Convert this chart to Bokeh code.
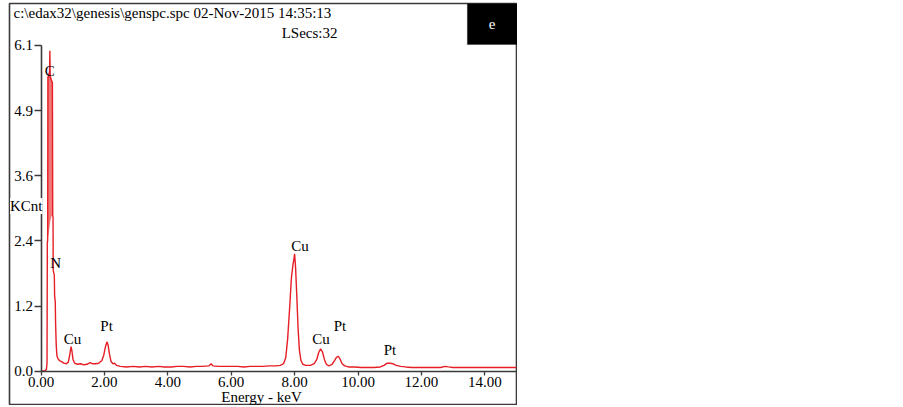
from bokeh.plotting import figure
from bokeh.models import Label, BoxAnnotation, FixedTicker, LinearAxis
from bokeh.embed import file_html
from bokeh.resources import INLINE

# ---- data ----
energy = [0.00, 0.12, 0.17, 0.19, 0.20, 0.21, 0.22, 0.27, 0.28, 0.29, 0.36, 0.37, 0.38, 0.385,
          0.40, 0.42, 0.43, 0.45, 0.46, 0.48, 0.50, 0.53, 0.58, 0.65, 0.72, 0.80, 0.86, 0.90,
          0.93, 0.95, 0.98, 1.01, 1.06, 1.15, 1.25, 1.35, 1.45, 1.55, 1.62, 1.72, 1.82, 1.92,
          1.98, 2.03, 2.08, 2.12, 2.16, 2.21, 2.27, 2.32, 2.38, 2.50, 2.70, 2.90, 3.10, 3.30,
          3.50, 3.70, 3.90, 4.10, 4.30, 4.50, 4.70, 4.90, 5.10, 5.30, 5.37, 5.42, 5.60, 5.80,
          6.00, 6.20, 6.40, 6.60, 6.80, 7.00, 7.20, 7.40, 7.55, 7.65, 7.72, 7.78, 7.84, 7.90,
          7.95, 7.98, 8.00, 8.03, 8.07, 8.11, 8.15, 8.20, 8.26, 8.35, 8.50, 8.62, 8.70, 8.76,
          8.82, 8.88, 8.94, 9.00, 9.08, 9.18, 9.26, 9.32, 9.38, 9.44, 9.50, 9.58, 9.70, 9.90,
          10.10, 10.30, 10.50, 10.70, 10.82, 10.92, 11.00, 11.10, 11.20, 11.35, 11.50, 11.70,
          12.00, 12.30, 12.60, 12.75, 12.85, 13.00, 13.30, 13.60, 14.00, 14.40, 14.70, 15.00]
kcnt = [0.00, 0.01, 0.03, 0.15, 2.40, 2.45, 5.50, 5.60, 6.00, 5.50, 5.40, 2.90, 2.90, 1.90,
        1.85, 1.80, 1.40, 1.30, 0.90, 0.50, 0.30, 0.24, 0.20, 0.18, 0.15, 0.14, 0.17, 0.28,
        0.40, 0.46, 0.36, 0.22, 0.15, 0.13, 0.14, 0.12, 0.13, 0.16, 0.14, 0.14, 0.15, 0.20,
        0.30, 0.45, 0.55, 0.48, 0.32, 0.18, 0.14, 0.15, 0.11, 0.09, 0.08, 0.09, 0.08, 0.09,
        0.08, 0.09, 0.08, 0.08, 0.09, 0.09, 0.08, 0.09, 0.09, 0.10, 0.14, 0.10, 0.09, 0.09,
        0.09, 0.09, 0.08, 0.09, 0.09, 0.09, 0.10, 0.10, 0.11, 0.14, 0.25, 0.60, 1.15, 1.75,
        2.00, 2.10, 2.20, 1.95, 1.40, 0.80, 0.40, 0.20, 0.13, 0.11, 0.11, 0.14, 0.22, 0.35,
        0.42, 0.36, 0.22, 0.13, 0.10, 0.13, 0.20, 0.26, 0.28, 0.22, 0.14, 0.10, 0.08, 0.08,
        0.07, 0.07, 0.07, 0.08, 0.11, 0.15, 0.15, 0.14, 0.11, 0.09, 0.08, 0.07,
        0.07, 0.07, 0.07, 0.09, 0.08, 0.07, 0.07, 0.07, 0.07, 0.07, 0.07, 0.07]

c_band_energy = [0.205, 0.25, 0.29, 0.33, 0.37]
c_band_low = [2.45, 2.60, 2.80, 2.90, 2.90]
c_band_high = [5.50, 5.60, 5.60, 5.50, 5.40]

peak_names = ["C", "N", "Cu", "Pt", "Cu", "Cu", "Pt", "Pt"]
peak_x = [0.28, 0.46, 0.99, 2.07, 8.17, 8.83, 9.43, 11.01]
peak_y = [5.63, 2.02, 0.61, 0.84, 2.35, 0.61, 0.84, 0.39]

x_ticks = [0, 2, 4, 6, 8, 10, 12, 14]
x_tick_labels = ["0.00", "2.00", "4.00", "6.00", "8.00", "10.00", "12.00", "14.00"]
y_ticks = [0.0, 1.22, 2.44, 3.66, 4.88, 6.1]
y_tick_labels = ["0.0", "1.2", "2.4", "3.6", "4.9", "6.1"]

header_text = "c:\\edax32\\genesis\\genspc.spc 02-Nov-2015 14:35:13"
lsecs_text = "LSecs:32"
panel_tag = "e"
x_title = "Energy - keV"
y_title = "KCnt"

FONT = "Liberation Serif"
RED = "#e61e25"
AXC = "#3a3a3a"

# canvas geometry (page pixels): frame box from (9,3) to (517,405)
W, H = 517, 405
LEFT, TOP = 9, 3
PX_PER_KEV = 31.7
PX_PER_K = 53.4
X0_PX = 40.5      # page x of 0 keV
Y0_PX = 370.7     # page y of 0 KCnt
x_start = (LEFT - X0_PX) / PX_PER_KEV
x_end = (W - X0_PX) / PX_PER_KEV
y_end = (Y0_PX - TOP) / PX_PER_K
y_start = (Y0_PX - H) / PX_PER_K

p = figure(width=W, height=H, x_range=(x_start, x_end), y_range=(y_start, y_end),
           output_backend="svg", toolbar_location=None, title=None,
           min_border_left=LEFT, min_border_top=TOP, min_border_right=0, min_border_bottom=0,
           x_axis_location=None, y_axis_location=None)
p.outline_line_color = AXC
p.outline_line_width = 1.6
p.xgrid.visible = False
p.ygrid.visible = False
p.background_fill_color = "white"
p.border_fill_color = "white"

xax = LinearAxis(fixed_location=0, bounds=(0, 15), ticker=FixedTicker(ticks=x_ticks),
                 major_label_overrides=dict(zip(x_ticks, x_tick_labels)))
yax = LinearAxis(fixed_location=0, bounds=(0, 6.1), ticker=FixedTicker(ticks=y_ticks),
                 major_label_overrides=dict(zip(y_ticks, y_tick_labels)))
p.add_layout(xax, "below")
p.add_layout(yax, "left")

for ax in (xax, yax):
    ax.axis_line_color = AXC
    ax.axis_line_width = 1.6
    ax.major_tick_line_color = AXC
    ax.major_tick_line_width = 1.3
    ax.major_tick_in = 0
    ax.minor_tick_line_color = None
    ax.major_label_text_font = FONT
    ax.major_label_text_font_size = "15px"
    ax.major_label_text_color = "black"

xax.major_tick_out = 4
xax.major_label_standoff = 2
yax.major_tick_out = 7
yax.major_label_standoff = 1

# spectrum
p.varea(x=c_band_energy, y1=c_band_low, y2=c_band_high, fill_color="#f07878")
p.line(energy, kcnt, line_color=RED, line_width=1.4)

# peak labels
for name, px, py in zip(peak_names, peak_x, peak_y):
    p.add_layout(Label(x=px, y=py, text=name, text_font=FONT, text_font_size="15px",
                       text_align="center", text_baseline="middle", text_color="black"))

# black tag box
p.add_layout(BoxAnnotation(left=13.45, right=x_end, bottom=6.118, top=y_end,
                           fill_color="black", fill_alpha=1, line_color="black"))
p.add_layout(Label(x=14.23, y=6.50, text=panel_tag, text_font=FONT, text_font_size="15px",
                   text_align="center", text_baseline="middle", text_color="white"))

# header texts
p.add_layout(Label(x=-0.867, y=6.717, text=header_text, text_font=FONT, text_font_size="15px",
                   text_align="left", text_baseline="middle", text_color="black"))
p.add_layout(Label(x=9.353, y=6.324, text=lsecs_text, text_font=FONT, text_font_size="15px",
                   text_align="right", text_baseline="middle", text_color="black"))

# axis titles
p.add_layout(Label(x=0.047, y=3.094, text=y_title, text_font=FONT, text_font_size="15px",
                   text_align="right", text_baseline="middle", text_color="black",
                   background_fill_color="white"))
p.add_layout(Label(x=6.956, y=-0.49, text=x_title, text_font=FONT, text_font_size="15px",
                   text_align="center", text_baseline="middle", text_color="black"))

open("out.html", "w").write(file_html(p, INLINE))
